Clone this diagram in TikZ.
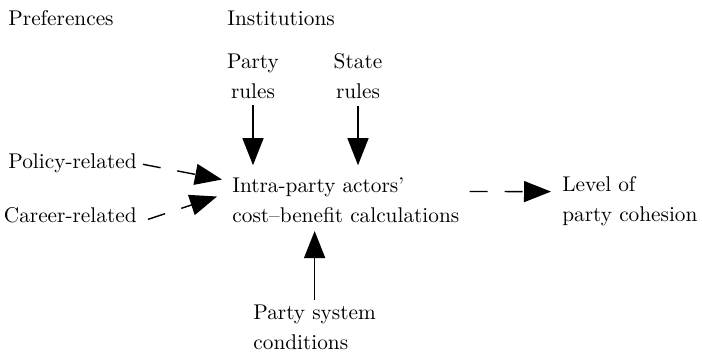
\documentclass[tikz,border=0pt]{standalone}
\usetikzlibrary{arrows.meta}

\begin{document}
\begin{tikzpicture}[x=0.5pt, y=-0.5pt,
  lbl/.style={inner sep=0pt, align=left, font=\fontsize{10.65}{15}\selectfont},
  arr/.style={line width=0.7pt, -{Triangle[length=13.5pt, width=10.5pt]}},
  dasharr/.style={arr, dash pattern=on 9pt off 8.5pt}]
\useasboundingbox (0,0) rectangle (702,354);

% column heads
\node [lbl, anchor=north west] (pref) at (8,10.2) {Preferences};
\node [lbl, anchor=north west] (inst) at (227,10.2) {Institutions};

% institutions
\node [lbl, align=center, anchor=north] (prules) at (253,53.5) {Party\\rules};
\node [lbl, align=center, anchor=north] (srules) at (358,53.5) {State\\rules};

% preferences
\node [lbl, align=right, anchor=north east] (policy) at (137,153.2) {Policy-related};
\node [lbl, align=right, anchor=north east] (career) at (137,207.2) {Career-related};

% centre and outcome
\node [lbl, anchor=north west] (calc) at (232,177.2) {Intra-party actors'\\cost--benefit calculations};
\node [lbl, anchor=north west] (cohesion) at (562,176.2) {Level of\\party cohesion};

% party system
\node [lbl, anchor=north west] (system) at (253,304.5) {Party system\\conditions};

\draw [arr, shorten <=3pt, shorten >=6pt] (prules.south) -- (prules.south |- calc.north);
\draw [arr, shorten <=3pt, shorten >=6pt] (srules.south) -- (srules.south |- calc.north);
\draw [dasharr, shorten <=3pt] (policy.east) -- ([shift={(-10,-20.6)}]calc.west);
\draw [dasharr] ([shift={(11,4)}]career.east) -- ([shift={(-15,-3.6)}]calc.west);
\draw [arr, shorten <=2.5pt, shorten >=4pt] (system.north) -- (system.north |- calc.south);
\draw [dasharr] ([shift={(10,-8.6)}]calc.east) -- ([shift={(-11,-9.7)}]cohesion.west);

\end{tikzpicture}
\end{document}
